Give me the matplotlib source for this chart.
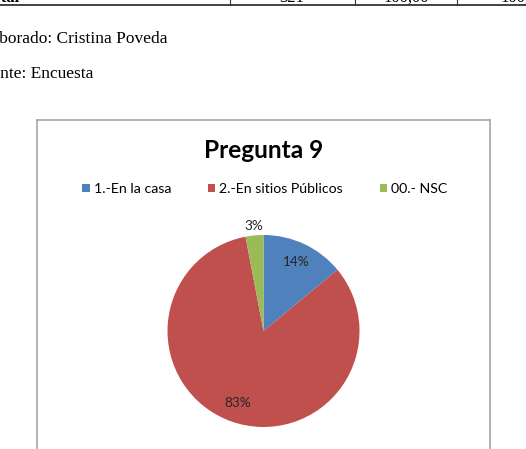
import matplotlib
matplotlib.use("Agg")
import matplotlib.pyplot as plt
import numpy as np

W, H = 526, 449

categories = ["1.-En la casa", "2.-En sitios Públicos", "00.- NSC"]
values = [14, 83, 3]
colors = ["#4F81BD", "#C0504D", "#9BBB59"]
title = "Pregunta 9"
table_cells = ["Total", "321", "100,00", "100,00"]
notes = ["Elaborado: Cristina Poveda", "Fuente: Encuesta"]

fig = plt.figure(figsize=(W / 100, H / 100), dpi=100)
fig.patch.set_facecolor("white")

def fx(x):
    return x / W

def fy(y):
    return 1 - y / H

# --- document table remnants at top ---
fig.add_artist(plt.Line2D([0, 1], [fy(5), fy(5)], color="#222222", lw=1.2))
for xv in [230, 355, 457]:
    fig.add_artist(plt.Line2D([fx(xv), fx(xv)], [fy(5), 1], color="#333333", lw=0.8))
serif = ["Liberation Serif", "DejaVu Serif"]
fig.text(fx(20), fy(2), table_cells[0], ha="right", va="baseline", fontsize=12,
         fontweight="bold", family=serif)
fig.text(fx(292), fy(2), table_cells[1], ha="center", va="baseline", fontsize=12, family=serif)
fig.text(fx(406), fy(2), table_cells[2], ha="center", va="baseline", fontsize=12, family=serif)
fig.text(fx(500), fy(2), table_cells[3], ha="left", va="baseline", fontsize=12, family=serif)

# --- notes ---
fig.text(fx(167), fy(43), notes[0], ha="right", va="baseline", fontsize=12.5, family=serif)
fig.text(fx(93), fy(78), notes[1], ha="right", va="baseline", fontsize=12.5, family=serif)

# --- chart frame (bottom cut off) ---
frame_c = "#A6A6A6"
fig.add_artist(plt.Line2D([fx(37), fx(490)], [fy(120), fy(120)], color=frame_c, lw=1.2))
fig.add_artist(plt.Line2D([fx(37), fx(37)], [fy(120), 0], color=frame_c, lw=1.2))
fig.add_artist(plt.Line2D([fx(490), fx(490)], [fy(120), 0], color=frame_c, lw=1.2))

sans = ["Lato", "DejaVu Sans"]
fig.text(fx(264), fy(151), title, ha="center", va="center", fontsize=17.6,
         fontweight="bold", family=sans, color="black")

# --- pie ---
cx, cy, r = 263.5, 331, 96
ax = fig.add_axes([fx(cx - r), fy(cy + r), 2 * r / W, 2 * r / H])
wedges, texts, autotexts = ax.pie(
    values, colors=colors, startangle=90, counterclock=False,
    autopct=lambda p: f"{p:.0f}%", pctdistance=0.8,
    wedgeprops=dict(linewidth=0), textprops=dict(fontsize=9.8, family=sans, color="#262626"))
ax.set_xlim(-1, 1)
ax.set_ylim(-1, 1)
ax.set_aspect("auto")
ax.axis("off")

# place the small slice label outside
w = wedges[2]
ang = np.deg2rad((w.theta1 + w.theta2) / 2)
autotexts[2].set_position((1.1 * np.cos(ang), 1.1 * np.sin(ang)))

# --- legend ---
fig.legend(wedges, categories, ncol=3, loc="center",
           bbox_to_anchor=(fx(265), fy(189)), frameon=False,
           prop=dict(family=sans, size=10.2), handlelength=0.5, handleheight=0.5,
           handletextpad=0.3, columnspacing=2.6)

fig.savefig("out.png", dpi=100, facecolor="white")
